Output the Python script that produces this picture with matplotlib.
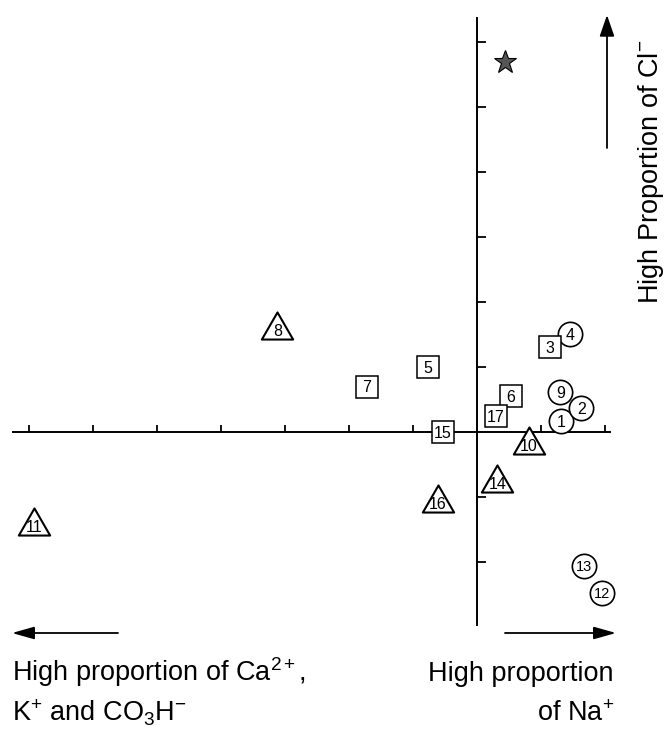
import matplotlib

matplotlib.use("Agg")
import matplotlib.pyplot as plt  # noqa: E402
from matplotlib.path import Path  # noqa: E402

plt.rcParams["font.family"] = ["Liberation Sans", "DejaVu Sans"]
plt.rcParams["mathtext.fontset"] = "custom"
plt.rcParams["mathtext.rm"] = "Liberation Sans"
plt.rcParams["mathtext.it"] = "Liberation Sans:italic"
plt.rcParams["mathtext.default"] = "regular"

# sample points, grouped by symbol (tick spacing = 1 unit)
CIRCLE_IDS = ["1", "2", "4", "9", "12", "13"]
CIRCLE_X = [1.31, 1.63, 1.45, 1.30, 1.95, 1.67]
CIRCLE_Y = [0.17, 0.37, 1.51, 0.62, -2.47, -2.06]

SQUARE_IDS = ["3", "5", "6", "7", "15", "17"]
SQUARE_X = [1.14, -0.77, 0.53, -1.72, -0.53, 0.29]
SQUARE_Y = [1.31, 1.00, 0.55, 0.70, 0.0, 0.24]

TRIANGLE_IDS = ["8", "10", "11", "14", "16"]
TRIANGLE_X = [-3.12, 0.81, -6.92, 0.32, -0.61]
TRIANGLE_Y = [1.57, -0.20, -1.44, -0.78, -1.09]

STAR_X = [0.44]
STAR_Y = [5.70]

X_TICKS = [-7, -6, -5, -4, -3, -2, -1, 1, 2]
Y_TICKS = [-2, -1, 1, 2, 3, 4, 5, 6]

W, H = 665, 729
OX, OY = 477, 432  # origin in pixels (from top-left)
UX, UY = 64, 65  # pixels per unit


def px(x, y):
    """pixel (top-left origin) -> axes fraction"""
    return x / W, 1 - y / H


fig = plt.figure(figsize=(W / 100, H / 100), dpi=100)
ax = fig.add_axes([0, 0, 1, 1])
ax.set_xlim(-OX / UX, (W - OX) / UX)
ax.set_ylim(-(H - OY) / UY, OY / UY)

for side in ("top", "right"):
    ax.spines[side].set_visible(False)
ax.spines["left"].set_position(("data", 0))
ax.spines["bottom"].set_position(("data", 0))
ax.spines["left"].set_bounds(-(625 - OY) / UY, (OY - 18) / UY)
ax.spines["bottom"].set_bounds(-(OX - 13) / UX, (610 - OX) / UX)
for sp in ax.spines.values():
    sp.set_linewidth(1.4)
ax.set_xticks(X_TICKS)
ax.set_yticks(Y_TICKS)
ax.tick_params(axis="x", direction="in", length=5, width=1.3, labelbottom=False)
ax.tick_params(axis="y", direction="in", length=6.5, width=1.3, labelleft=False)

tri = Path([(0, 0.577), (-0.5, -0.289), (0.5, -0.289), (0, 0.577)],
           [Path.MOVETO, Path.LINETO, Path.LINETO, Path.CLOSEPOLY])

ax.plot(CIRCLE_X, CIRCLE_Y, "o", ms=17.5, mfc="white", mec="black", mew=1.2,
        ls="none", zorder=3)
ax.plot(SQUARE_X, SQUARE_Y, "s", ms=15.5, mfc="white", mec="black", mew=1.1,
        ls="none", zorder=3)
ax.plot(TRIANGLE_X, TRIANGLE_Y, marker=tri, ms=26, mfc="white", mec="black",
        mew=1.5, ls="none", zorder=3)
ax.plot(STAR_X, STAR_Y, "*", ms=17, mfc="#555555", mec="black", mew=0.8,
        ls="none", zorder=3)

for ids, xs, ys in ((CIRCLE_IDS, CIRCLE_X, CIRCLE_Y),
                    (SQUARE_IDS, SQUARE_X, SQUARE_Y),
                    (TRIANGLE_IDS, TRIANGLE_X, TRIANGLE_Y)):
    for lab, x, y in zip(ids, xs, ys):
        fs = 10.5 if (len(lab) > 1 and ids is CIRCLE_IDS) else 11.5
        ax.text(x, y, lab, ha="center", va="center_baseline", fontsize=fs, zorder=4)

# direction arrows
arrow = dict(arrowstyle="-|>,head_length=1.35,head_width=0.38", color="black",
             lw=1.3, shrinkA=0, shrinkB=0)
ax.annotate("", xy=px(12, 633), xytext=px(118, 633), xycoords="axes fraction",
            textcoords="axes fraction", arrowprops=arrow)
ax.annotate("", xy=px(616, 633), xytext=px(505, 633), xycoords="axes fraction",
            textcoords="axes fraction", arrowprops=arrow)
ax.annotate("", xy=px(607, 15), xytext=px(607, 148), xycoords="axes fraction",
            textcoords="axes fraction",
            arrowprops=dict(arrow, arrowstyle="-|>,head_length=1.3,head_width=0.45"))

fs = 19.5
ax.text(*px(12, 681), "High proportion of Ca$^{2+}$,", transform=ax.transAxes,
        fontsize=fs, ha="left", va="baseline")
ax.text(*px(12, 721), "K$^{+}$ and CO$_{3}$H$^{-}$", transform=ax.transAxes,
        fontsize=fs, ha="left", va="baseline")
ax.text(*px(614, 681), "High proportion", transform=ax.transAxes,
        fontsize=fs, ha="right", va="baseline")
ax.text(*px(614, 721), "of Na$^{+}$", transform=ax.transAxes,
        fontsize=fs, ha="right", va="baseline")
ax.text(*px(658, 172), "High Proportion of Cl$^{-}$", transform=ax.transAxes,
        fontsize=fs, rotation=90, rotation_mode="anchor", ha="center", va="baseline")

fig.savefig("out.png", dpi=100)
